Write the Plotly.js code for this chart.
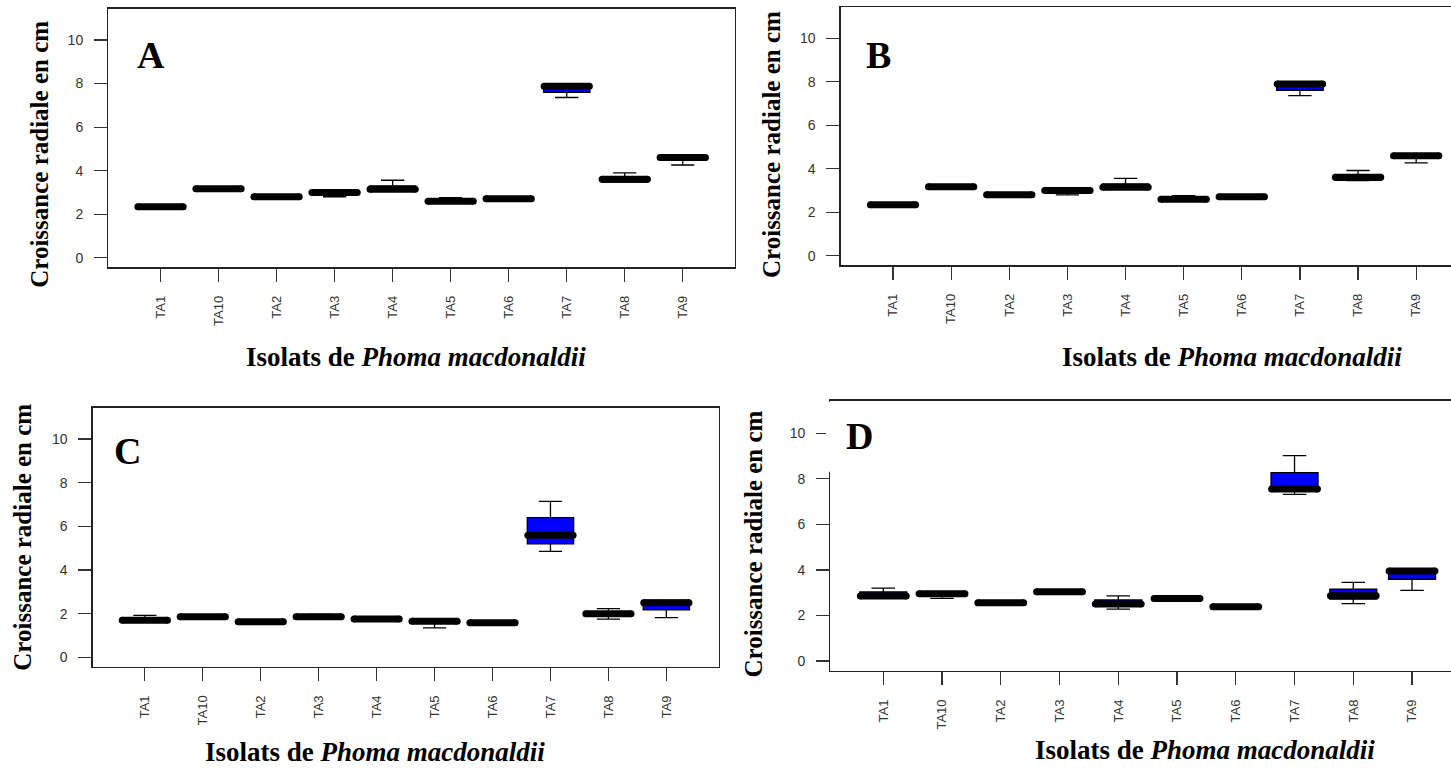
<!DOCTYPE html>
<html><head><meta charset="utf-8">
<script src="https://cdn.plot.ly/plotly-3.0.1.min.js"></script>
<style>html,body{margin:0;padding:0;overflow:hidden;background:#fff}#chart{width:1470px;height:769px}</style>
</head><body><div id="chart"></div><script>
// ---------- data ----------
const isolats = ['TA1','TA10','TA2','TA3','TA4','TA5','TA6','TA7','TA8','TA9'];
const yTickVals = [0, 2, 4, 6, 8, 10];
const panelLetters = ['A', 'B', 'C', 'D'];
const yTitle = 'Croissance radiale en cm';
const xTitle = 'Isolats de <i>Phoma macdonaldii</i>';

// Panel A
const A_lower  = [2.30, 3.13, 2.77, 2.80, 3.07, 2.57, 2.69, 7.36, 3.47, 4.26];
const A_q1     = [2.30, 3.13, 2.77, 2.97, 3.07, 2.57, 2.69, 7.60, 3.47, 4.48];
const A_median = [2.34, 3.17, 2.80, 3.00, 3.15, 2.60, 2.71, 7.88, 3.60, 4.60];
const A_q3     = [2.37, 3.20, 2.83, 3.04, 3.30, 2.70, 2.73, 7.92, 3.66, 4.65];
const A_upper  = [2.37, 3.20, 2.83, 3.04, 3.56, 2.76, 2.73, 7.92, 3.90, 4.65];

// Panel B
const B_lower  = [2.30, 3.13, 2.77, 2.80, 3.07, 2.57, 2.69, 7.36, 3.45, 4.27];
const B_q1     = [2.30, 3.13, 2.77, 2.97, 3.07, 2.57, 2.69, 7.61, 3.47, 4.48];
const B_median = [2.35, 3.17, 2.80, 3.00, 3.15, 2.60, 2.71, 7.90, 3.61, 4.60];
const B_q3     = [2.37, 3.20, 2.83, 3.05, 3.30, 2.70, 2.73, 7.93, 3.68, 4.65];
const B_upper  = [2.37, 3.20, 2.83, 3.05, 3.56, 2.76, 2.73, 7.93, 3.92, 4.65];

// Panel C
const C_lower  = [1.66, 1.83, 1.60, 1.83, 1.72, 1.35, 1.55, 4.85, 1.75, 1.82];
const C_q1     = [1.66, 1.83, 1.60, 1.83, 1.72, 1.60, 1.55, 5.20, 1.92, 2.17];
const C_median = [1.70, 1.86, 1.63, 1.86, 1.75, 1.65, 1.58, 5.59, 2.00, 2.50];
const C_q3     = [1.76, 1.88, 1.66, 1.90, 1.78, 1.70, 1.60, 6.40, 2.05, 2.62];
const C_upper  = [1.92, 1.88, 1.66, 1.97, 1.78, 1.70, 1.60, 7.14, 2.23, 2.62];

// Panel D
const D_lower  = [2.80, 2.75, 2.53, 3.00, 2.28, 2.62, 2.35, 7.32, 2.52, 3.10];
const D_q1     = [2.80, 2.90, 2.53, 3.00, 2.45, 2.62, 2.35, 7.45, 2.72, 3.59];
const D_median = [2.85, 2.95, 2.56, 3.04, 2.50, 2.74, 2.38, 7.55, 2.87, 3.95];
const D_q3     = [3.03, 2.98, 2.58, 3.07, 2.68, 2.78, 2.40, 8.27, 3.15, 3.98];
const D_upper  = [3.20, 2.98, 2.58, 3.07, 2.86, 2.78, 2.40, 9.02, 3.45, 3.98];

// ---------- layout geometry (pixels) ----------
const W = 1470, H = 769;
const frames = [
  {l: 108.3, r: 735.0, t: 8.7,   b: 267.3},
  {l: 840.7, r: 1468.5, t: 7.0,  b: 265.3},
  {l: 92.7,  r: 718.5, t: 407.6, b: 666.9},
  {l: 830.4, r: 1464.9, t: 400.5, b: 671.0}
];
const letterPos = [[151, 55], [878, 55], [128, 451], [859, 436]];
const yTitlePos = [[38.8, 154], [771, 144], [21.7, 537], [752.5, 544]];
const xTitlePos = [[415.6, 357], [1232, 357], [375, 752], [1205, 750]];

const panels = [
  {lower: A_lower, q1: A_q1, median: A_median, q3: A_q3, upper: A_upper},
  {lower: B_lower, q1: B_q1, median: B_median, q3: B_q3, upper: B_upper},
  {lower: C_lower, q1: C_q1, median: C_median, q3: C_q3, upper: C_upper},
  {lower: D_lower, q1: D_q1, median: D_median, q3: D_q3, upper: D_upper}
];

const pos = isolats.map((_, i) => i + 1);
const serif = 'Liberation Serif, Times New Roman, serif';
const sans = 'Liberation Sans, Arial, sans-serif';

const traces = [];
const layout = {
  width: W, height: H,
  margin: {l: 0, r: 0, t: 0, b: 0},
  paper_bgcolor: '#fff', plot_bgcolor: '#fff',
  showlegend: false,
  annotations: [], shapes: []
};

panels.forEach((p, k) => {
  const sfx = k === 0 ? '' : String(k + 1);
  const xa = 'x' + sfx, ya = 'y' + sfx;
  traces.push({
    type: 'box', x: pos, q1: p.q1, median: p.median, q3: p.q3,
    lowerfence: p.lower, upperfence: p.upper,
    xaxis: xa, yaxis: ya, width: 0.8, whiskerwidth: 0.5,
    fillcolor: '#0000FF', line: {color: '#000', width: 1.3},
    boxpoints: false, hoverinfo: 'skip'
  });
  // thick median bars (R style)
  const mx = [], my = [];
  pos.forEach((xv, i) => { mx.push(xv - 0.39, xv + 0.39, null); my.push(p.median[i], p.median[i], null); });
  traces.push({
    type: 'scatter', mode: 'lines+markers', x: mx, y: my, xaxis: xa, yaxis: ya,
    line: {color: '#000', width: 7}, marker: {color: '#000', size: 7},
    hoverinfo: 'skip', connectgaps: false
  });
  const f = frames[k];
  layout['xaxis' + sfx] = {
    domain: [f.l / W, f.r / W], anchor: ya, range: [0.1, 10.9],
    tickmode: 'array', tickvals: pos, ticktext: isolats, tickangle: -90,
    ticks: 'outside', ticklen: 13, tickwidth: 1.2, tickcolor: '#333',
    ticklabelstandoff: 9,
    showline: true, mirror: true, linecolor: '#222', linewidth: 1.3,
    showgrid: false, zeroline: false, fixedrange: true,
    tickfont: {family: sans, size: 13, color: '#333'}
  };
  layout['yaxis' + sfx] = {
    domain: [1 - f.b / H, 1 - f.t / H], anchor: xa, range: [-0.44, 11.44],
    tickmode: 'array', tickvals: yTickVals,
    ticks: 'outside', ticklen: 13, tickwidth: 1.2, tickcolor: '#333',
    ticklabelstandoff: 8,
    showline: true, mirror: true, linecolor: '#222', linewidth: 1.3,
    showgrid: false, zeroline: false, fixedrange: true,
    tickfont: {family: sans, size: 14, color: '#333'}
  };
  layout.annotations.push({
    text: '<b>' + panelLetters[k] + '</b>', xref: 'paper', yref: 'paper',
    x: letterPos[k][0] / W, y: 1 - letterPos[k][1] / H, xanchor: 'center', yanchor: 'middle',
    showarrow: false, font: {family: serif, size: 38, color: '#000'}
  });
  layout.annotations.push({
    text: '<b>' + yTitle + '</b>', xref: 'paper', yref: 'paper', textangle: -90,
    x: yTitlePos[k][0] / W, y: 1 - yTitlePos[k][1] / H, xanchor: 'center', yanchor: 'middle',
    showarrow: false, font: {family: serif, size: 25, color: '#000'}
  });
  layout.annotations.push({
    text: '<b>' + xTitle + '</b>', xref: 'paper', yref: 'paper',
    x: xTitlePos[k][0] / W, y: 1 - xTitlePos[k][1] / H, xanchor: 'center', yanchor: 'middle',
    showarrow: false, font: {family: serif, size: 27, color: '#000'}
  });
});

// panel D: the left frame edge is missing near the top in the original figure
layout.shapes.push({
  type: 'rect', layer: 'above', xref: 'x4 domain', yref: 'y4',
  x0: -0.007, x1: 0.006, y0: 8.31, y1: 11.39,
  fillcolor: '#fff', line: {width: 0}
});

Plotly.newPlot('chart', traces, layout, {staticPlot: true, displayModeBar: false});
</script></body></html>
